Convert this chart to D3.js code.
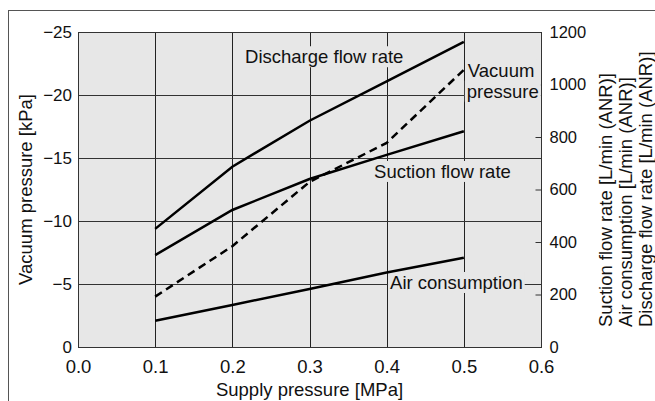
<!DOCTYPE html>
<html>
<head>
<meta charset="utf-8">
<script src="https://cdn.jsdelivr.net/npm/d3@7"></script>
<style>
  body { margin: 0; background: #fff; }
  svg { display: block; font-family: "Liberation Sans", Arial, Helvetica, sans-serif; }
</style>
</head>
<body>
<div id="chart"></div>
<script>
// values
const supply = [0.1, 0.2, 0.3, 0.4, 0.5];
const dischargeFlow = [450, 687, 862, 1012, 1162];   // L/min (ANR), right axis
const suctionFlow = [350, 522, 640, 732, 822];       // L/min (ANR), right axis
const airConsumption = [100, 160, 221, 284, 340];    // L/min (ANR), right axis
const vacuumPressure = [-4, -8, -13.1, -16.2, -22];  // kPa, left axis

const xTicks = [0, 0.1, 0.2, 0.3, 0.4, 0.5, 0.6];
const leftTicks = [0, -5, -10, -15, -20, -25];
const rightTicks = [0, 200, 400, 600, 800, 1000, 1200];
const rightTitles = ["Suction flow rate [L/min (ANR)]", "Air consumption [L/min (ANR)]", "Discharge flow rate [L/min (ANR)]"];

const width = 655, height = 401;
const bg = "#e7e7e7";

const svg = d3.select("#chart").append("svg")
    .attr("width", width)
    .attr("height", height);

// outer frame (runs off right/bottom in the reference)
svg.append("rect")
    .attr("x", 8.5).attr("y", 10.5)
    .attr("width", 800).attr("height", 600)
    .attr("fill", "none")
    .attr("stroke", "#555");

const x = d3.scaleLinear().domain([0, 0.6]).range([78, 541]);
const yL = d3.scaleLinear().domain([0, -25]).range([347, 32]);
const yR = d3.scaleLinear().domain([0, 1200]).range([347, 32]);

// plot background
svg.append("rect")
    .attr("x", x(0)).attr("y", yL(-25))
    .attr("width", x(0.6) - x(0)).attr("height", yL(0) - yL(-25))
    .attr("fill", bg);

// grid
svg.append("g").selectAll("line")
    .data(xTicks.slice(1, -1))
    .enter().append("line")
    .attr("x1", d => Math.round(x(d)) + 0.5).attr("x2", d => Math.round(x(d)) + 0.5)
    .attr("y1", yL(0)).attr("y2", yL(-25))
    .attr("stroke", "#222").attr("stroke-width", 1);

svg.append("g").selectAll("line")
    .data(leftTicks.slice(1, -1))
    .enter().append("line")
    .attr("x1", x(0)).attr("x2", x(0.6))
    .attr("y1", d => Math.round(yL(d)) + 0.5).attr("y2", d => Math.round(yL(d)) + 0.5)
    .attr("stroke", "#333").attr("stroke-width", 1);

// plot border
svg.append("rect")
    .attr("x", x(0) + 0.5).attr("y", yL(-25) + 0.5)
    .attr("width", x(0.6) - x(0)).attr("height", yL(0) - yL(-25))
    .attr("fill", "none")
    .attr("stroke", "#333");

// axes
const xAxis = svg.append("g")
    .attr("transform", "translate(0," + yL(0) + ")")
    .call(d3.axisBottom(x).tickValues(xTicks).tickFormat(d3.format(".1f")).tickSize(0).tickPadding(13));

const leftAxis = svg.append("g")
    .attr("transform", "translate(" + x(0) + ",0)")
    .call(d3.axisLeft(yL).tickValues(leftTicks)
        .tickFormat(d => d === 0 ? "0" : "\u2212" + Math.abs(d))
        .tickSize(0).tickPadding(6));

const rightAxis = svg.append("g")
    .attr("transform", "translate(" + (x(0.6) + 0.5) + ",0)")
    .call(d3.axisRight(yR).tickValues(rightTicks).tickFormat(d3.format("d"))
        .tickSizeInner(-6).tickSizeOuter(0).tickPadding(8));

[xAxis, leftAxis, rightAxis].forEach(function(a) {
    a.select(".domain").remove();
    a.selectAll("text").attr("fill", "#111").style("font-family", "inherit");
    a.selectAll(".tick line").attr("stroke", "#333");
});
xAxis.selectAll("text").style("font-size", "18.5px");
leftAxis.selectAll("text").style("font-size", "17px");
rightAxis.selectAll("text").style("font-size", "16.5px");

// curve labels with grey boxes that hide the grid
function label(txt, px, py) {
    const g = svg.append("g");
    const t = g.append("text")
        .attr("x", px).attr("y", py)
        .style("font-size", "18.5px")
        .attr("fill", "#111")
        .text(txt);
    const b = t.node().getBBox();
    g.insert("rect", "text")
        .attr("x", b.x - 2).attr("y", b.y)
        .attr("width", b.width + 4).attr("height", b.height)
        .attr("fill", bg);
}
label("Discharge flow rate", x(0.2165), yR(1081));
label("Vacuum", x(0.5052), yR(1029));
label("pressure", x(0.5039), yR(950));
label("Suction flow rate", x(0.3837), yR(644));
label("Air consumption", x(0.4044), yR(221));

// curves
const lineR = d3.line().x((d, i) => x(supply[i])).y(d => yR(d));
const lineL = d3.line().x((d, i) => x(supply[i])).y(d => yL(d));

[dischargeFlow, suctionFlow, airConsumption].forEach(function(s) {
    svg.append("path")
        .datum(s)
        .attr("d", lineR)
        .attr("fill", "none")
        .attr("stroke", "#000")
        .attr("stroke-width", 2.5);
});

svg.append("path")
    .datum(vacuumPressure)
    .attr("d", lineL)
    .attr("fill", "none")
    .attr("stroke", "#000")
    .attr("stroke-width", 2.5)
    .attr("stroke-dasharray", "8,5");

// axis titles
svg.append("text")
    .attr("x", (x(0) + x(0.6)) / 2).attr("y", 396)
    .attr("text-anchor", "middle")
    .style("font-size", "18.5px")
    .attr("fill", "#111")
    .text("Supply pressure [MPa]");

svg.append("text")
    .attr("transform", "translate(32," + (yL(0) + yL(-25)) / 2 + ") rotate(-90)")
    .attr("text-anchor", "middle")
    .style("font-size", "18.5px")
    .attr("fill", "#111")
    .text("Vacuum pressure [kPa]");

svg.append("g").selectAll("text")
    .data(rightTitles)
    .enter().append("text")
    .attr("transform", (d, i) => "translate(" + (612 + i * 20) + ",327) rotate(-90)")
    .style("font-size", "18.5px")
    .attr("fill", "#111")
    .text(d => d);
</script>
</body>
</html>
